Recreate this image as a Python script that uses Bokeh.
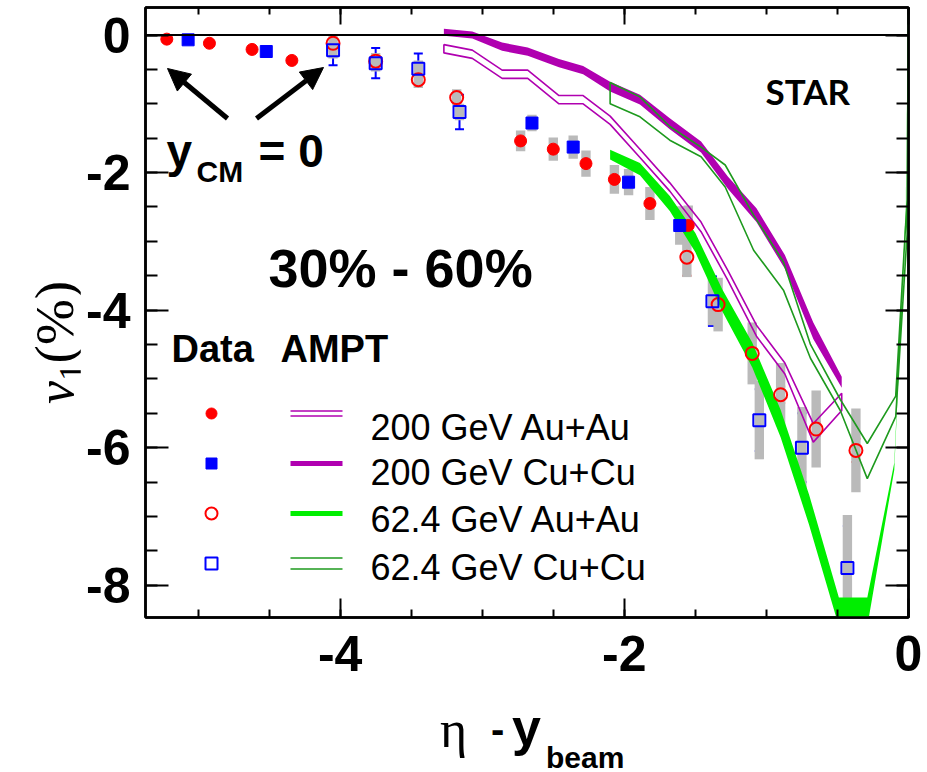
import numpy as np
from bokeh.plotting import figure
from bokeh.layouts import column, row
from bokeh.models import (Range1d, LinearAxis, FixedTicker, Span, Label, Arrow,
                          NormalHead, Whisker, TeeHead, ColumnDataSource,
                          CustomJSTickFormatter, Div)
from bokeh.embed import file_html
from bokeh.resources import INLINE

# ---------------- measured v1 (%) vs eta - y_beam, 30% - 60% ----------------
# 200 GeV Au+Au (filled red circles)
auau200_x = [-5.22, -4.92, -4.62, -4.34, -2.73, -2.50, -2.27, -2.07, -1.82, -1.55]
auau200_v = [-0.06, -0.12, -0.21, -0.37, -1.54, -1.66, -1.87, -2.10, -2.45, -2.77]
auau200_sys = [0.0, 0.0, 0.0, 0.0, 0.15, 0.17, 0.19, 0.21, 0.24, 0.29]

# 200 GeV Cu+Cu (filled blue squares)
cucu200_x = [-5.07, -4.52, -2.65, -2.36, -1.97, -1.61]
cucu200_v = [-0.07, -0.24, -1.28, -1.63, -2.14, -2.77]
cucu200_sys = [0.0, 0.0, 0.12, 0.17, 0.19, 0.28]

# 62.4 GeV Au+Au (open red circles)
auau62_x = [-4.05, -3.75, -3.45, -3.18, -1.56, -1.34, -1.10, -0.90, -0.65, -0.37]
auau62_v = [-0.12, -0.38, -0.65, -0.91, -3.23, -3.92, -4.63, -5.23, -5.73, -6.04]
auau62_stat = [0.05, 0.05, 0.05, 0.05, 0.27, 0.06, 0.08, 0.12, 0.10, 0.17]
auau62_sys = [0.12, 0.12, 0.12, 0.12, 0.29, 0.39, 0.45, 0.46, 0.56, 0.61]

# 62.4 GeV Cu+Cu (open blue squares)
cucu62_x = [-4.05, -3.75, -3.45, -3.16, -1.38, -1.05, -0.75, -0.43]
cucu62_v = [-0.22, -0.41, -0.49, -1.12, -3.87, -5.60, -6.00, -7.75]
cucu62_stat = [0.22, 0.22, 0.22, 0.25, 0.36, 0.45, 0.50, 0.61]
cucu62_sys = [0.12, 0.12, 0.12, 0.12, 0.35, 0.57, 0.59, 0.77]

# ---------------- AMPT bands (upper / lower edges) ----------------
ampt200_x = [-3.27, -3.07, -2.86, -2.68, -2.46, -2.29, -2.10, -1.89, -1.68,
             -1.46, -1.27, -1.07, -0.87, -0.67, -0.47]
ampt_cucu200_hi = [0.09, 0.05, -0.11, -0.18, -0.35, -0.45, -0.68, -0.87, -1.21,
                   -1.55, -2.06, -2.52, -3.20, -4.18, -4.97]
ampt_cucu200_lo = [-0.01, -0.05, -0.23, -0.30, -0.47, -0.57, -0.82, -1.01, -1.37,
                   -1.71, -2.24, -2.72, -3.40, -4.42, -5.13]
ampt_auau200_hi = [-0.14, -0.22, -0.51, -0.51, -0.88, -0.88, -1.18, -1.66, -2.15,
                   -2.72, -3.43, -4.22, -4.77, -5.65, -5.21]
ampt_auau200_lo = [-0.26, -0.34, -0.63, -0.63, -1.00, -1.00, -1.30, -1.78, -2.27,
                   -2.86, -3.57, -4.38, -4.93, -5.92, -5.46]

ampt_auau62_x = [-2.10, -1.89, -1.68, -1.50, -1.31, -1.10, -0.90, -0.70, -0.49,
                 -0.29, -0.10, -0.02, 0.0]
ampt_auau62_hi = [-1.67, -1.86, -2.34, -2.88, -3.70, -4.47, -5.45, -6.68, -8.18,
                  -8.18, -6.22, -2.55, 0.6]
ampt_auau62_lo = [-1.81, -2.04, -2.56, -3.16, -4.02, -4.83, -5.85, -7.12, -8.60,
                  -8.60, -6.32, -2.65, 0.5]

ampt_cucu62_x = [-2.10, -1.89, -1.68, -1.46, -1.29, -1.09, -0.88, -0.69, -0.48,
                 -0.29, -0.09, -0.01, 0.0]
ampt_cucu62_hi = [-0.69, -0.90, -1.33, -1.63, -1.89, -2.62, -3.30, -4.50, -5.30,
                  -5.94, -5.25, -2.40, 0.6]
ampt_cucu62_lo = [-1.00, -1.19, -1.53, -1.77, -2.21, -3.13, -3.71, -4.70, -5.46,
                  -6.45, -5.55, -2.90, 0.6]

# ---------------- axes ----------------
x_major = [-4, -2, 0]
x_minor = [-5.0, -4.5, -4.0, -3.5, -3.0, -2.5, -2.0, -1.5, -1.0, -0.5, 0.0]
y_major = [-8, -6, -4, -2, 0]
y_minor = [-8.0, -7.5, -7.0, -6.5, -6.0, -5.5, -5.0, -4.5, -4.0, -3.5, -3.0,
           -2.5, -2.0, -1.5, -1.0, -0.5, 0.0]

legend_labels = ["200 GeV Au+Au", "200 GeV Cu+Cu", "62.4 GeV Au+Au", "62.4 GeV Cu+Cu"]

# ---------------- layout ----------------
W, H = 927, 772
YLAB_W = 80                 # strip holding the rotated y title
XLAB_H = 72                 # strip holding the x title
PW, PH = W - YLAB_W, H - XLAB_H
FL, FR, FT, FB = 145, 908, 7, 617          # frame edges on the page (px)
X_RANGE = (-5.37, 0.0)
Y_RANGE = (-8.47, 0.40)

RED, BLUE = "#ff0000", "#0000ff"
PURPLE = "#b000b0"
LIME = "#00ee00"
DKGREEN = "#1e9a1e"
GRAY = "#bababa"


def px_x(sx):
    return X_RANGE[0] + (sx - FL) * (X_RANGE[1] - X_RANGE[0]) / (FR - FL)


def px_y(sy):
    return Y_RANGE[1] - (sy - FT) * (Y_RANGE[1] - Y_RANGE[0]) / (FB - FT)


PX_DY = (Y_RANGE[1] - Y_RANGE[0]) / (FB - FT)   # data units per vertical pixel

p = figure(width=PW, height=PH, x_range=Range1d(*X_RANGE), y_range=Range1d(*Y_RANGE),
           output_backend="svg", toolbar_location=None,
           min_border_left=FL - YLAB_W, min_border_right=W - FR,
           min_border_top=FT, min_border_bottom=PH - FB, margin=0)
p.grid.visible = False
p.outline_line_color = "black"
p.outline_line_width = 2.5
p.background_fill_color = "white"
p.border_fill_color = "white"


def style_axis(ax, major, minor, tick_major, tick_minor, show_labels, standoff=0):
    ax.ticker = FixedTicker(ticks=major, minor_ticks=minor)
    ax.axis_line_width = 2.5
    ax.axis_line_color = "black"
    ax.major_tick_in = tick_major
    ax.major_tick_out = 0
    ax.minor_tick_in = tick_minor
    ax.minor_tick_out = 0
    ax.major_tick_line_width = 2
    ax.minor_tick_line_width = 2
    ax.major_tick_line_color = "black"
    ax.minor_tick_line_color = "black"
    ax.axis_label = None
    if show_labels:
        # plain ASCII hyphen for negative ticks
        ax.formatter = CustomJSTickFormatter(code="return tick.toFixed(0)")
        ax.major_label_text_font = "Liberation Sans"
        ax.major_label_text_font_style = "bold"
        ax.major_label_text_font_size = "50px"
        ax.major_label_text_color = "black"
        ax.major_label_standoff = standoff
    else:
        ax.formatter = CustomJSTickFormatter(code="return ''")
        ax.major_label_standoff = 0
        ax.major_label_text_font_size = "1px"


style_axis(p.xaxis[0], x_major, x_minor, 19, 8, True, 18)
style_axis(p.yaxis[0], y_major, y_minor, 23, 12, True, 15)
top_ax = LinearAxis()
style_axis(top_ax, x_major, x_minor, 17, 7, False)
p.add_layout(top_ax, "above")
right_ax = LinearAxis()
style_axis(right_ax, y_major, y_minor, 23, 12, False)
p.add_layout(right_ax, "right")

p.add_layout(Span(location=0, dimension="width", line_color="black", line_width=2))

# ---------------- systematic boxes ----------------
BOX_HW = 0.033
for xs, vs, ss in [(auau200_x, auau200_v, auau200_sys), (cucu200_x, cucu200_v, cucu200_sys),
                   (auau62_x, auau62_v, auau62_sys), (cucu62_x, cucu62_v, cucu62_sys)]:
    xa, va, sa = np.array(xs), np.array(vs), np.array(ss)
    keep = sa > 0
    p.quad(left=xa[keep] - BOX_HW, right=xa[keep] + BOX_HW,
           bottom=va[keep] - sa[keep], top=va[keep] + sa[keep],
           fill_color=GRAY, line_color=None)

# ---------------- AMPT curves ----------------
p.varea(x=ampt_auau62_x, y1=ampt_auau62_lo, y2=ampt_auau62_hi, fill_color=LIME)
p.varea(x=ampt200_x, y1=ampt_cucu200_lo, y2=ampt_cucu200_hi, fill_color=PURPLE)


def outline(xs, hi, lo, color):
    px = list(xs) + list(xs)[::-1]
    py = list(hi) + list(lo)[::-1]
    p.patch(px, py, fill_color=None, line_color=color, line_width=1.6)


outline(ampt200_x, ampt_auau200_hi, ampt_auau200_lo, PURPLE)
outline(ampt_cucu62_x, ampt_cucu62_hi, ampt_cucu62_lo, DKGREEN)

# ---------------- statistical errors ----------------
for xs, vs, es, col in [(auau62_x, auau62_v, auau62_stat, RED),
                        (cucu62_x, cucu62_v, cucu62_stat, BLUE)]:
    va, ea = np.array(vs), np.array(es)
    src = ColumnDataSource(dict(x=xs, lo=va - ea, up=va + ea))
    p.add_layout(Whisker(source=src, base="x", lower="lo", upper="up", dimension="height",
                         line_color=col, line_width=2,
                         lower_head=TeeHead(size=9, line_color=col, line_width=2),
                         upper_head=TeeHead(size=9, line_color=col, line_width=2)))

# ---------------- data markers ----------------
p.scatter(auau200_x, auau200_v, marker="circle", size=12, fill_color=RED, line_color=RED)
p.scatter(cucu200_x, cucu200_v, marker="square", size=12, fill_color=BLUE, line_color=BLUE)
p.scatter(auau62_x, auau62_v, marker="circle", size=13, fill_color=None,
          line_color=RED, line_width=2)
p.scatter(cucu62_x, cucu62_v, marker="square", size=12, fill_color=None,
          line_color=BLUE, line_width=2)

# ---------------- legend ----------------
LEG_MARK_X = 211
LEG_LINE_X = (290, 342)
LEG_TEXT_X = 370
LEG_ROW_Y = [413, 463, 513, 563]
LEG_TEXT_Y = [427, 472, 519, 567]

ly = [px_y(v) for v in LEG_ROW_Y]
lx = px_x(LEG_MARK_X)
p.scatter([lx], [ly[0]], marker="circle", size=11, fill_color=RED, line_color=RED)
p.scatter([lx], [ly[1]], marker="square", size=11, fill_color=BLUE, line_color=BLUE)
p.scatter([lx], [ly[2]], marker="circle", size=12, fill_color=None, line_color=RED, line_width=2)
p.scatter([lx], [ly[3]], marker="square", size=12, fill_color=None, line_color=BLUE, line_width=2)

x0, x1 = px_x(LEG_LINE_X[0]), px_x(LEG_LINE_X[1])
p.segment(x0=[x0, x0], x1=[x1, x1], y0=[ly[0] + 2.5 * PX_DY, ly[0] - 2.5 * PX_DY],
          y1=[ly[0] + 2.5 * PX_DY, ly[0] - 2.5 * PX_DY], line_color=PURPLE, line_width=1.6)
p.segment(x0=[x0], x1=[x1], y0=[ly[1]], y1=[ly[1]], line_color=PURPLE, line_width=5)
p.segment(x0=[x0], x1=[x1], y0=[ly[2]], y1=[ly[2]], line_color=LIME, line_width=5)
p.segment(x0=[x0, x0], x1=[x1, x1], y0=[ly[3] + 5.5 * PX_DY, ly[3] - 5.5 * PX_DY],
          y1=[ly[3] + 5.5 * PX_DY, ly[3] - 5.5 * PX_DY], line_color=DKGREEN, line_width=1.6)


def label(text, sx, sy, size, font="Liberation Sans", style="bold", align="left",
          baseline="alphabetic", angle=0.0):
    """Text placed in data space (inside the frame)."""
    p.add_layout(Label(x=px_x(sx), y=px_y(sy), text=text, text_font=font,
                       text_font_size=f"{size}px", text_font_style=style,
                       text_align=align, text_baseline=baseline, angle=angle,
                       text_color="black"))


for txt, ty in zip(legend_labels, LEG_TEXT_Y):
    label(txt, LEG_TEXT_X, ty, 36, style="normal", baseline="middle")

label("Data", 171, 348, 38)
label("AMPT", 280, 348, 38)
label("30% - 60%", 268, 267, 54)
label("STAR", 765, 90, 35, font="Lato")

# y_CM = 0 with arrows
label("y", 166, 150, 46)
label("CM", 196, 171, 30)
label("= 0", 258, 150, 46)
for (tx, ty), (hx, hy) in [((227, 118), (167, 68)), ((256, 118), (323, 67))]:
    p.add_layout(Arrow(x_start=px_x(tx), y_start=px_y(ty), x_end=px_x(hx), y_end=px_y(hy),
                       line_width=5, line_color="black",
                       end=NormalHead(size=22, fill_color="black", line_color="black",
                                      line_width=1)))

# ---------------- axis titles (rich text beside the plot) ----------------
ytitle_html = (
    f'<div style="position:relative;width:{YLAB_W}px;height:{PH}px;">'
    '<div style="position:absolute;left:27px;top:404px;transform:rotate(-90deg);'
    'transform-origin:left top;white-space:nowrap;line-height:1;'
    "font-family:'Liberation Serif';font-size:52px;color:black;\">"
    '<i>v</i><span style="font-size:35px;position:relative;top:11px;">1</span>'
    '<span style="font-size:55px;">(%)</span></div></div>'
)


def xpiece(text, left, baseline, size, family, weight):
    top = baseline - 0.8465 * size
    return (f'<span style="position:absolute;left:{left}px;top:{top:.1f}px;line-height:1;'
            f'white-space:nowrap;font-family:{family};font-size:{size}px;'
            f'font-weight:{weight};color:black;">{text}</span>')


xtitle_html = (
    f'<div style="position:relative;width:{W}px;height:{XLAB_H}px;">'
    + xpiece("\u03b7", 440, 48, 52, "'Liberation Serif'", "normal")
    + xpiece("-", 491, 43, 40, "'Liberation Sans'", "bold")
    + xpiece("y", 512, 45, 52, "'Liberation Sans'", "bold")
    + xpiece("beam", 546, 68, 30, "'Liberation Sans'", "bold")
    + '</div>'
)

ytitle = Div(text=ytitle_html, width=YLAB_W, height=PH, margin=0)
xtitle = Div(text=xtitle_html, width=W, height=XLAB_H, margin=0)

layout = column(row(ytitle, p, margin=0, spacing=0), xtitle, margin=0, spacing=0)

open("out.html", "w").write(file_html(layout, INLINE))
